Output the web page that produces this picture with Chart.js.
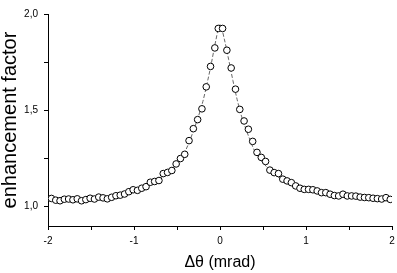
<!DOCTYPE html>
<html lang="en">
<head>
    <meta charset="UTF-8">
    <title>enhancement factor</title>
    <script src="https://cdn.jsdelivr.net/npm/chart.js"></script>
    <style>
        body { margin: 0; background: #fff; }
    </style>
</head>
<body>
    <canvas id="myChart" width="397" height="273"></canvas>
    <script>
        // measured points (mrad, enhancement)
        const angle = [
            -1.96, -1.91, -1.86, -1.81, -1.76, -1.71, -1.66, -1.61, -1.56, -1.51,
            -1.46, -1.41, -1.36, -1.31, -1.26, -1.21, -1.16, -1.11, -1.06, -1.01,
            -0.96, -0.91, -0.86, -0.81, -0.76, -0.71, -0.66, -0.61, -0.56, -0.51,
            -0.46, -0.41, -0.36, -0.31, -0.26, -0.21, -0.16, -0.11, -0.06, -0.02,
            0.03, 0.08, 0.13, 0.18, 0.23, 0.28, 0.33, 0.38, 0.43, 0.48,
            0.53, 0.58, 0.63, 0.68, 0.73, 0.78, 0.83, 0.88, 0.93, 0.98,
            1.03, 1.08, 1.13, 1.18, 1.23, 1.28, 1.33, 1.38, 1.43, 1.48,
            1.53, 1.58, 1.63, 1.68, 1.73, 1.78, 1.83, 1.88, 1.93, 1.98
        ];
        const enhancement = [
            1.043, 1.034, 1.031, 1.039, 1.040, 1.036, 1.041, 1.031, 1.037, 1.044,
            1.040, 1.050, 1.046, 1.041, 1.049, 1.057, 1.060, 1.066, 1.078, 1.088,
            1.085, 1.096, 1.104, 1.127, 1.131, 1.136, 1.172, 1.178, 1.188, 1.222,
            1.250, 1.272, 1.343, 1.405, 1.452, 1.508, 1.622, 1.728, 1.824, 1.925,
            1.925, 1.812, 1.720, 1.610, 1.505, 1.445, 1.402, 1.339, 1.282, 1.256,
            1.235, 1.190, 1.177, 1.172, 1.143, 1.134, 1.125, 1.108, 1.096, 1.090,
            1.090, 1.088, 1.082, 1.073, 1.073, 1.065, 1.058, 1.056, 1.065, 1.056,
            1.056, 1.055, 1.050, 1.048, 1.047, 1.044, 1.042, 1.040, 1.047, 1.038
        ];

        // fitted curve
        const fitAngle = [
            -2.00, -1.75, -1.50, -1.25, -1.00, -0.90, -0.80, -0.70, -0.60, -0.50,
            -0.45, -0.40, -0.35, -0.30, -0.25, -0.20, -0.15, -0.10, -0.05, 0.00,
            0.05, 0.10, 0.15, 0.20, 0.25, 0.30, 0.35, 0.40, 0.45, 0.50,
            0.60, 0.70, 0.80, 0.90, 1.00, 1.25, 1.50, 1.75, 2.00
        ];
        const fitValue = [
            1.036, 1.039, 1.043, 1.052, 1.083, 1.098, 1.118, 1.145, 1.178, 1.222,
            1.252, 1.292, 1.345, 1.405, 1.470, 1.545, 1.640, 1.745, 1.860, 1.945,
            1.870, 1.765, 1.655, 1.555, 1.470, 1.405, 1.345, 1.292, 1.258, 1.228,
            1.182, 1.148, 1.122, 1.102, 1.088, 1.068, 1.057, 1.048, 1.040
        ];

        const xTicks = [-2, -1.5, -1, -0.5, 0, 0.5, 1, 1.5, 2];
        const yTicks = [1.0, 1.25, 1.5, 1.75, 2.0];

        const font = "'Liberation Sans', Arial, sans-serif";

        const ctx = document.getElementById('myChart').getContext('2d');
        const myChart = new Chart(ctx, {
            type: 'scatter',
            data: {
                datasets: [{
                    label: 'data',
                    data: angle.map((a, i) => ({ x: a, y: enhancement[i] })),
                    pointRadius: 3.3,
                    pointBackgroundColor: '#fff',
                    pointBorderColor: '#000',
                    pointBorderWidth: 1,
                    showLine: false,
                    order: 0
                }, {
                    label: 'fit',
                    data: fitAngle.map((a, i) => ({ x: a, y: fitValue[i] })),
                    showLine: true,
                    pointRadius: 0,
                    borderColor: '#666',
                    borderWidth: 1,
                    borderDash: [4, 2],
                    cubicInterpolationMode: 'monotone',
                    order: 1
                }]
            },
            options: {
                responsive: false,
                animation: false,
                devicePixelRatio: 1,
                layout: { padding: { top: 14, right: 5, left: 0, bottom: 0 } },
                plugins: {
                    legend: { display: false },
                    tooltip: { enabled: false }
                },
                scales: {
                    x: {
                        type: 'linear',
                        min: -2,
                        max: 2,
                        afterBuildTicks: s => { s.ticks = xTicks.map(v => ({ value: v })); },
                        afterFit: s => { s.height = 47; s.paddingLeft = 0; s.paddingRight = 0; },
                        grid: { drawOnChartArea: false, tickLength: 4, color: '#000' },
                        border: { display: true, color: '#000', width: 1 },
                        ticks: {
                            autoSkip: false,
                            maxRotation: 0,
                            padding: 5,
                            color: '#000',
                            font: { family: font, size: 10 },
                            callback: v => Number.isInteger(v) ? String(v) : ''
                        },
                        title: {
                            display: true,
                            text: 'Δθ (mrad)',
                            color: '#000',
                            padding: { top: 0, bottom: 2 },
                            font: { family: font, size: 16, lineHeight: 1 }
                        }
                    },
                    y: {
                        min: 0.9,
                        max: 2.0,
                        afterBuildTicks: s => { s.ticks = yTicks.map(v => ({ value: v })); },
                        afterFit: s => { s.width = 48; s.paddingTop = 0; s.paddingBottom = 0; },
                        grid: { drawOnChartArea: false, tickLength: 4, color: '#000' },
                        border: { display: true, color: '#000', width: 1 },
                        ticks: {
                            padding: 6,
                            color: '#000',
                            font: { family: font, size: 10 },
                            callback: v => (Math.round(v * 100) % 50 === 0) ? v.toFixed(1).replace('.', ',') : ''
                        },
                        title: {
                            display: true,
                            text: 'enhancement factor',
                            color: '#000',
                            padding: { top: 0, bottom: 0 },
                            font: { family: font, size: 20, lineHeight: 1 }
                        }
                    }
                }
            }
        });
    </script>
</body>
</html>
